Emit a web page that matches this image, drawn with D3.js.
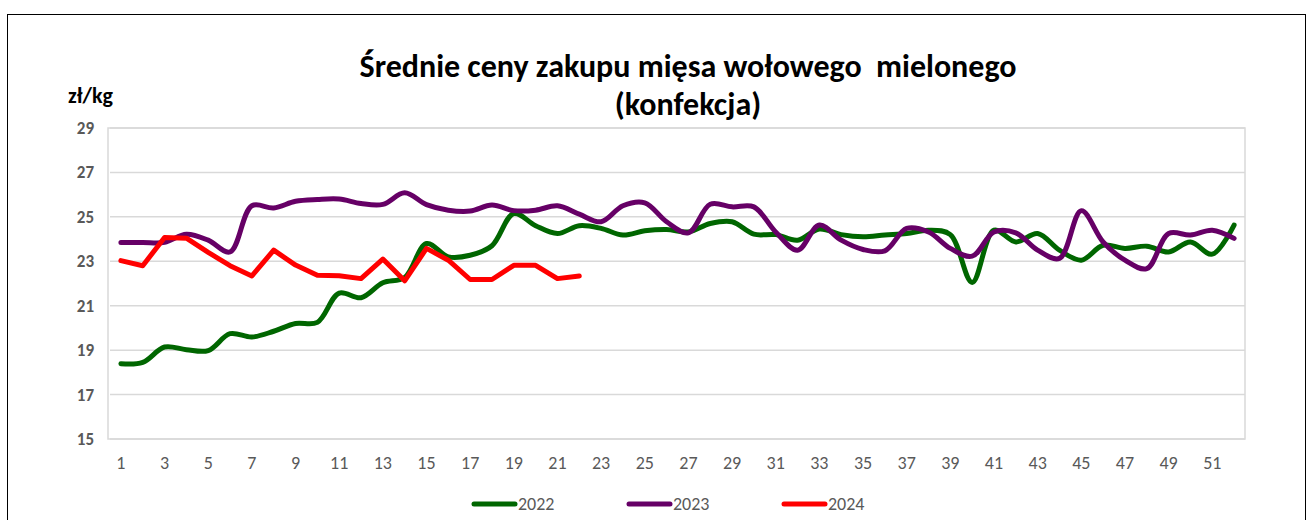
<!DOCTYPE html>
<html><head><meta charset="utf-8">
<script src="https://cdn.jsdelivr.net/npm/d3@7"></script>
<style>body{margin:0;background:#fff;} svg{display:block;}</style>
</head><body>
<svg id="c" width="1308" height="520"></svg>
<script>
const weeks = d3.range(1, 53);
const yTicks = [15, 17, 19, 21, 23, 25, 27, 29];
const xTickLabels = d3.range(1, 53, 2);
const seriesNames = ["2022", "2023", "2024"];
const v2022 = [18.39,18.45,19.14,19.02,18.98,19.74,19.59,19.85,20.2,20.25,21.57,21.36,22.03,22.27,23.8,23.2,23.27,23.7,25.15,24.6,24.25,24.6,24.48,24.18,24.37,24.43,24.32,24.7,24.78,24.22,24.2,23.95,24.45,24.2,24.1,24.18,24.25,24.4,24.2,22.05,24.4,23.87,24.25,23.5,23.05,23.72,23.58,23.68,23.42,23.87,23.32,24.63];
const v2023 = [23.85,23.85,23.85,24.22,23.95,23.42,25.5,25.4,25.7,25.78,25.8,25.6,25.56,26.08,25.55,25.3,25.26,25.53,25.28,25.3,25.5,25.12,24.78,25.5,25.63,24.78,24.28,25.57,25.45,25.45,24.32,23.5,24.63,23.95,23.53,23.47,24.48,24.32,23.58,23.23,24.32,24.28,23.5,23.13,25.28,23.87,23.05,22.67,24.25,24.18,24.4,24.03];
const v2024 = [23.03,22.8,24.07,24.04,23.4,22.8,22.34,23.5,22.83,22.37,22.35,22.22,23.1,22.12,23.58,23.05,22.18,22.18,22.82,22.82,22.22,22.34];
const colors = ["#006600", "#660066", "#ff0000"];
const FONT = "Carlito, Calibri, Lato, 'Open Sans', sans-serif";

const svg = d3.select("#c");
const L = 110, R = 1245, T = 128, B = 439;
const x = d3.scaleBand().domain(weeks).range([L, R]);
const xc = w => x(w) + x.bandwidth() / 2;
const y = d3.scaleLinear().domain([15, 29]).range([B, T]);

// outer border
svg.append("rect").attr("x", 7.5).attr("y", 14.5).attr("width", 1298).attr("height", 520)
  .attr("fill", "none").attr("stroke", "#000").attr("stroke-width", 1);

// gridlines
svg.append("g").selectAll("line").data(yTicks).join("line")
  .attr("x1", L).attr("x2", R).attr("y1", d => y(d)).attr("y2", d => y(d))
  .attr("stroke", "#d9d9d9").attr("stroke-width", 1.5);
// plot border
svg.append("rect").attr("x", L - 2).attr("y", T).attr("width", R - L + 2).attr("height", B - T)
  .attr("fill", "none").attr("stroke", "#d9d9d9").attr("stroke-width", 1.5);

// y axis labels
const yAxis = d3.axisLeft(y).tickValues(yTicks).tickSize(0).tickPadding(0);
const gy = svg.append("g").attr("transform", `translate(94,0)`).call(yAxis);
gy.select(".domain").remove();
gy.selectAll("text").attr("font-family", FONT)
  .attr("font-size", 17).attr("font-weight", "bold").attr("fill", "#595959");

// x axis labels
const xAxis = d3.axisBottom(x).tickValues(xTickLabels).tickSize(0).tickPadding(0);
const gx = svg.append("g").call(xAxis);
gx.select(".domain").remove();
gx.selectAll("text").attr("font-family", FONT)
  .attr("font-size", 18).attr("fill", "#595959").attr("y", 469).attr("dy", 0);

// lines
const smooth = d3.line().x((d, i) => xc(i + 1)).y(d => y(d)).curve(d3.curveCatmullRom.alpha(0.5));
const straight = d3.line().x((d, i) => xc(i + 1)).y(d => y(d));
const data = [v2022, v2023, v2024];
data.forEach((vals, k) => {
  svg.append("path").datum(vals)
    .attr("d", k < 2 ? smooth : straight)
    .attr("fill", "none").attr("stroke", colors[k]).attr("stroke-width", 5)
    .attr("stroke-linecap", "round").attr("stroke-linejoin", "round");
});

// title
const title = svg.append("text").attr("text-anchor", "middle")
  .attr("font-family", FONT).style("white-space", "pre")
  .attr("font-weight", "bold").attr("font-size", 32).attr("fill", "#000");
title.append("tspan").attr("x", 688).attr("y", 77).text("Średnie ceny zakupu mięsa wołowego  mielonego");
title.append("tspan").attr("x", 688).attr("y", 115).text("(konfekcja)");

// unit
svg.append("text").attr("x", 68).attr("y", 103).text("zł/kg")
  .attr("font-family", FONT)
  .attr("font-weight", "bold").attr("font-size", 22).attr("fill", "#000");

// legend
const legX = [474, 629, 784];
const lg = svg.append("g");
seriesNames.forEach((n, k) => {
  lg.append("line").attr("x1", legX[k]).attr("x2", legX[k] + 41).attr("y1", 504).attr("y2", 504)
    .attr("stroke", colors[k]).attr("stroke-width", 5).attr("stroke-linecap", "round");
  lg.append("text").attr("x", legX[k] + 44).attr("y", 510).text(n)
    .attr("font-family", FONT)
    .attr("font-size", 18).attr("fill", "#595959");
});
</script>
</body></html>
